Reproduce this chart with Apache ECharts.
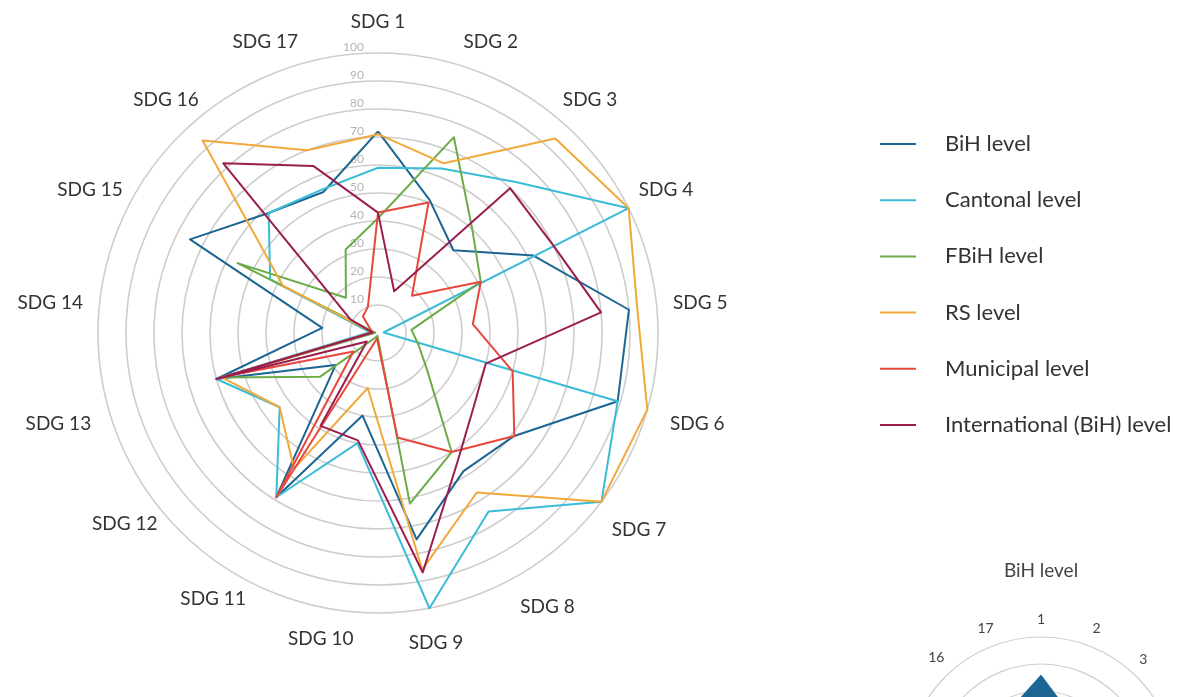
<!DOCTYPE html>
<html>
<head>
<meta charset="utf-8">
<script src="https://cdn.jsdelivr.net/npm/echarts@6/dist/echarts.min.js"></script>
<style>
html,body{margin:0;padding:0;background:#fff;}
#chart{width:1192px;height:697px;}
</style>
</head>
<body>
<div id="chart"></div>
<script>
// ---- data ----
const categories = ['SDG 1','SDG 2','SDG 3','SDG 4','SDG 5','SDG 6','SDG 7','SDG 8','SDG 9','SDG 10','SDG 11','SDG 12','SDG 13','SDG 14','SDG 15','SDG 16','SDG 17'];
const miniCategories = ['1','2','3','4','5','6','7','8','9','10','11','12','13','14','15','16','17'];
const ringLabels = ['', '10', '20', '30', '40', '50', '60', '70', '80', '90', '100'];
const seriesNames = ['BiH level','Cantonal level','FBiH level','RS level','Municipal level','International (BiH) level'];

const bihLevel           = [72, 51, 40, 62, 90, 89, 61, 58, 75, 30, 69, 19, 60, 20, 75, 58, 54];
const cantonalLevel      = [59, 63, 73, 100, 2, 89, 100, 75, 100, 40, 69, 44, 60, 3, 43, 58, 55];
const fbihLevel          = [41, 75, 50, 41, 12, 15, 22, 50, 62, 1, 2, 26, 58, 1, 56, 17, 32];
const rsLevel            = [71, 65, 94, 100, 93, 100, 100, 67, 86, 20, 57, 44, 58, 2, 38, 93, 70];
const municipalLevel     = [43, 50, 18, 41, 34, 50, 61, 50, 38, 2, 69, 11, 56, 2, 3, 8, 10];
const internationalLevel = [43, 16, 70, 70, 80, 40, 43, 54, 87, 39, 39, 5, 60, 2, 11, 82, 64];

const seriesValues = [bihLevel, cantonalLevel, fbihLevel, rsLevel, municipalLevel, internationalLevel];
const seriesColors = ['#1d6593', '#3bbcd6', '#6cab48', '#f0a93a', '#e8473d', '#9b1d4e'];

// ECharts radar lays indicators counter-clockwise; reorder so SDGs run clockwise.
const N = categories.length;
const order = [0].concat(categories.map((_, i) => N - 1 - i).slice(0, N - 1));
const reorder = arr => order.map(i => arr[i]);

const font = 'Lato, "Noto Sans", sans-serif';
const measureCtx = document.createElement('canvas').getContext('2d');
function textWidth(t, size) { measureCtx.font = size + 'px Lato'; return measureCtx.measureText(t).width; }

// centred axis names, pushed out so the nearest edge of the text box keeps a roughly fixed gap from the outer ring
function centredName(name, pos, size, baseGap, tune) {
  const ang = Math.PI / 2 + pos * 2 * Math.PI / N;     // screen angle of this indicator (math convention)
  const c = Math.cos(ang), s = Math.sin(ang);
  const sx = Math.abs(c), sy = Math.abs(s);
  const hw = textWidth(name, size) / 2, hh = size / 2;
  const t = Math.min(sx > 1e-6 ? hw / sx : 1e9, sy > 1e-6 ? hh / sy : 1e9);
  const extra = tune ? (20 * Math.max(0, -s) * Math.max(0, c) - 6 * Math.pow(sx, 12)) : 0;
  return { nameGap: baseGap + t + extra, nameTextStyle: { align: 'center', verticalAlign: 'middle' } };
}

const mainIndicators = reorder(categories).map((name, i) => {
  const ind = Object.assign({ name: name, min: 0, max: 100 }, centredName(name, i, 19, 22, true));
  if (i === 0) {
    ind.axisLabel = {
      show: true, showMinLabel: false, color: '#b4b4b4', fontSize: 12, fontFamily: font,
      margin: 14, align: 'right', verticalAlign: 'bottom',
      formatter: v => ringLabels[Math.round(v / 10)]
    };
  }
  return ind;
});
const miniIndicators = reorder(miniCategories).map((name, i) =>
  Object.assign({ name: name, min: 0, max: 100 }, centredName(name, i, 14, 11, false)));

const chart = echarts.init(document.getElementById('chart'), null, { renderer: 'canvas' });

const series = seriesNames.map((name, k) => ({
  type: 'radar',
  radarIndex: 0,
  name: name,
  symbol: 'none',
  color: seriesColors[k],
  lineStyle: { width: 2, color: seriesColors[k] },
  itemStyle: { color: seriesColors[k] },
  data: [{ name: name, value: reorder(seriesValues[k]) }],
  z: 2
}));
series.push({
  type: 'radar',
  radarIndex: 1,
  name: 'BiH level mini',
  symbol: 'none',
  color: seriesColors[0],
  lineStyle: { width: 1, color: '#8fd3ea' },
  areaStyle: { color: seriesColors[0], opacity: 1 },
  data: [{ name: 'BiH level', value: reorder(bihLevel) }]
});

chart.setOption({
  animation: false,
  backgroundColor: '#ffffff',
  title: {
    text: 'BiH level', left: 1036, top: 556, textAlign: 'center',
    textStyle: { fontSize: 19, fontWeight: 'normal', color: '#444', fontFamily: font }
  },
  legend: {
    orient: 'vertical', left: 875, top: 128,
    data: seriesNames,
    icon: 'rect', itemWidth: 36, itemHeight: 2, itemGap: 34.2,
    textStyle: { fontSize: 22, color: '#333', fontFamily: font, padding: [0, 0, 0, 24], lineHeight: 20 },
    selectedMode: false
  },
  radar: [{
    center: [378, 333],
    radius: 280,
    startAngle: 90,
    shape: 'circle',
    splitNumber: 10,
    axisName: { color: '#333', fontSize: 19, fontFamily: font },
    splitLine: { lineStyle: { color: '#cdcdcd', width: 1.6 } },
    splitArea: { show: false },
    axisLine: { show: false },
    axisTick: { show: false },
    axisLabel: { show: false },
    indicator: mainIndicators
  }, {
    center: [1041, 772],
    radius: 135,
    startAngle: 90,
    shape: 'circle',
    splitNumber: 5,
    axisName: { color: '#444', fontSize: 14, fontFamily: font },
    splitLine: { lineStyle: { color: '#cdcdcd', width: 1.2 } },
    splitArea: { show: false },
    axisLine: { show: false },
    axisTick: { show: false },
    axisLabel: { show: false },
    indicator: miniIndicators
  }],
  series: series
});
</script>
</body>
</html>
